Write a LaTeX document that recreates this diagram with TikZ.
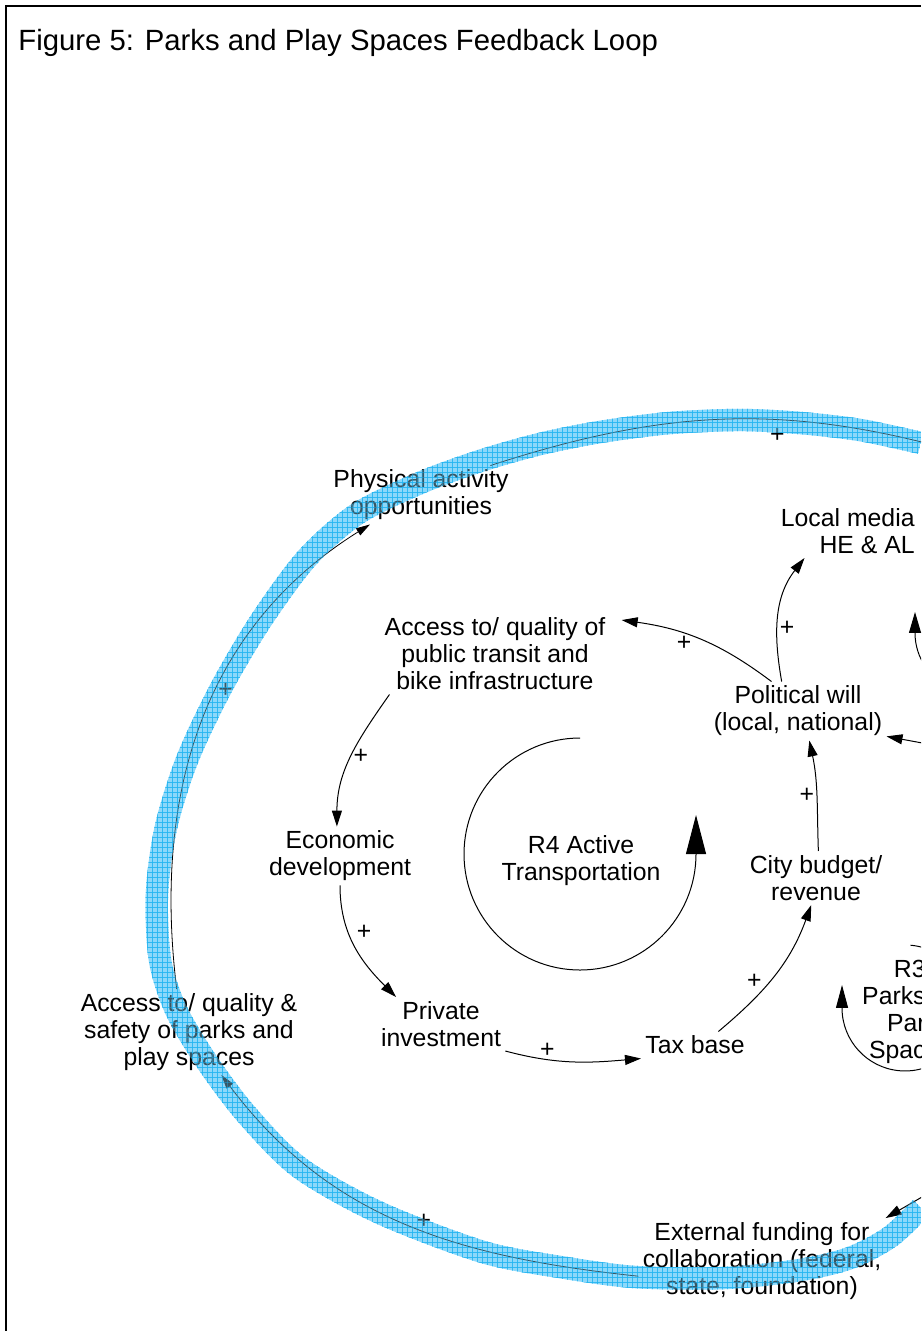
\documentclass[tikz,border=0pt]{standalone}
\usepackage{fontspec}
\setmainfont{Liberation Sans}
\usetikzlibrary{arrows.meta,calc}

\newcommand\cldfont{\fontsize{12.4}{13.5}\selectfont}
\newcommand\cldtitle{\fontsize{14.65}{17}\selectfont}
\definecolor{bandfill}{RGB}{140,216,250}
\definecolor{bandgrid}{RGB}{20,176,240}

\tikzset{
  var/.style={font=\cldfont, align=center, inner sep=2pt},
  sgn/.style={font=\cldfont, inner sep=1pt},
  link/.style={-{Triangle[length=8pt,width=5pt]}, line width=0.5pt},
  hilink/.style={-{Triangle[length=7pt,width=4pt]}, line width=0.4pt},
  loopline/.style={line width=0.5pt},
}

% the highlighted loop: a hatched band along the centre points c1..c32
\newcommand\parkband{%
  \begin{scope}
    \clip plot[smooth] coordinates {(bo2) (bo3) (bo4) (bo5) (bo6) (bo7) (bo8) (bo9) (bo10) (bo11) (bo12) (bo13) (bo14) (bo15) (bo16) (bo17) (bo18) (bo19) (bo20) (bo21) (bo22) (bo23) (bo24) (bo25) (bo26) (bo27) (bo28) (bo29) (bo30) (bo31)}
      -- plot[smooth] coordinates {(bi31) (bi30) (bi29) (bi28) (bi27) (bi26) (bi25) (bi24) (bi23) (bi22) (bi21) (bi20) (bi19) (bi18) (bi17) (bi16) (bi15) (bi14) (bi13) (bi12) (bi11) (bi10) (bi9) (bi8) (bi7) (bi6) (bi5) (bi4) (bi3) (bi2)} -- cycle;
    \fill[bandfill] (0,0) rectangle (921,-1331);
    \foreach \g in {2,7,...,1330} \draw[bandgrid, line width=0.35pt] (0,-\g) -- (921,-\g);
    \foreach \g in {2,7,...,920} \draw[bandgrid, line width=0.35pt] (\g,0) -- (\g,-1331);
  \end{scope}}

\begin{document}
\begin{tikzpicture}[x=0.5pt, y=0.5pt]
  \useasboundingbox (0,0) rectangle (921,-1331);
  \clip (0,0) rectangle (921,-1331);

  % band centre line
  \foreach \bx/\by [count=\k] in {985/468, 921/443, 860/430, 800/423, 740/420, 670/423, 600/432, 540/444, 480/461, 420/483, 357/514, 307/558, 260/622, 220/690, 187/760, 166/827, 157/893, 160/960, 176/1010, 207/1062, 247/1115, 300/1168, 380/1213, 483/1252, 560/1267, 635/1277, 725/1278, 800/1270, 850/1258, 890/1237, 921/1208, 980/1150}
    \coordinate (c\k) at (\bx,-\by);
  \foreach \i [evaluate=\i as \h using int(\i-1), evaluate=\i as \j using int(\i+1)] in {2,...,31} {
    \coordinate (u\i) at ($(c\h)!5.6pt!90:(c\j)$);
    \coordinate (bi\i) at ($(c\i)+(u\i)-(c\h)$);
    \coordinate (bo\i) at ($(c\i)-(u\i)+(c\h)$);
  }
  \parkband

  % variables
  \node[var] (phys) at (421,-495) {Physical activity\\opportunities};
  \node[var, anchor=east, align=right] (media) at (919,-531) {Local media\\HE \& AL};
  \node[var, inner xsep=8pt] (transit) at (495,-654) {Access to/ quality of\\public transit and\\bike infrastructure};
  \node[var] (polwill) at (798,-711) {Political will\\(local, national)};
  \node[var] (econ) at (340,-856) {Economic\\development};
  \node[var] (r4) at (581,-861) {R4 Active\\Transportation};
  \node[var] (budget) at (816,-878) {City budget/\\revenue};
  \node[var] (parks) at (189,-1032) {Access to/ quality \&\\safety of parks and\\play spaces};
  \node[var] (priv) at (441,-1024) {Private\\investment};
  \node[var] (tax) at (695,-1045) {Tax base};
  \node[var] (extfund) at (762,-1261) {External funding for\\collaboration (federal,\\state, foundation)};
  \node[var, anchor=east, align=right] (r3) at (930,-1012) {R3\\Parks\\Par\\Spac};

  \coordinate (offright1) at (960,-750);
  \coordinate (offright2) at (960,-452);
  \coordinate (offright3) at (960,-1175);

  % links
  \draw[link] (polwill.119) to[out=100,in=232] node[sgn,pos=0.4,right]{+} (media.212);
  \draw[link] (polwill.132) to[out=143,in=-8] node[sgn,pos=0.62,below]{+} (transit.15);
  \draw[link] (transit.201) to[out=235,in=90] node[sgn,pos=0.5,right]{+} (econ.96);
  \draw[link] (econ.south) to[out=-90,in=135] node[sgn,pos=0.37,right=3pt]{+} (priv.149);
  \draw[link] (priv.south east) to[out=-15,in=185] node[sgn,pos=0.3,above]{+} (tax.south west);
  \draw[link] (tax.30) to[out=40,in=250] node[sgn,pos=0.45,left=3pt]{+} (budget.260);
  \draw[link] (budget.85) to[out=92,in=-78] node[sgn,pos=0.5,left]{+} (polwill.-69);
  \draw[link] (offright1) -- (polwill.-16);
  \draw[link] (offright3) -- (extfund.north east);

  % links of the highlighted loop
  \draw[hilink] (parks.106) to[out=97,in=212] node[sgn,pos=0.57,right]{+} (phys.210);
  \draw[hilink] (phys.23) to[out=18,in=165] node[sgn,pos=0.62,below=3pt]{+} (offright2);
  \draw[hilink] (extfund.187) to[out=174,in=-53] node[sgn,pos=0.45,above]{+} (parks.-53);

  % loop markers
  \draw[loopline, -{Triangle[length=19.5pt,width=10pt]}] (580,-738) arc[start angle=90, end angle=360, radius=116] -- ++(0,39);
  \draw[loopline, -{Triangle[length=11.5pt,width=6pt]}] (910.5,-945.2) arc[start angle=85, end angle=-180, radius=63] -- ++(0,23);
  \draw[loopline, -{Triangle[length=10.5pt,width=6pt]}] (925.85,-667.4) arc[start angle=215, end angle=180, radius=60] -- ++(0,21);

  % band again, thin, over the text
  \begin{scope}[opacity=0.4]
    \parkband
  \end{scope}

  % frame and title
  \draw[line width=1pt] (6,-1331) -- (6,-6) -- (921,-6);
  \node[anchor=base west, font=\cldtitle, inner sep=0pt] (title) at (18,-51) {Figure 5: Parks and Play Spaces Feedback Loop};
\end{tikzpicture}
\end{document}
